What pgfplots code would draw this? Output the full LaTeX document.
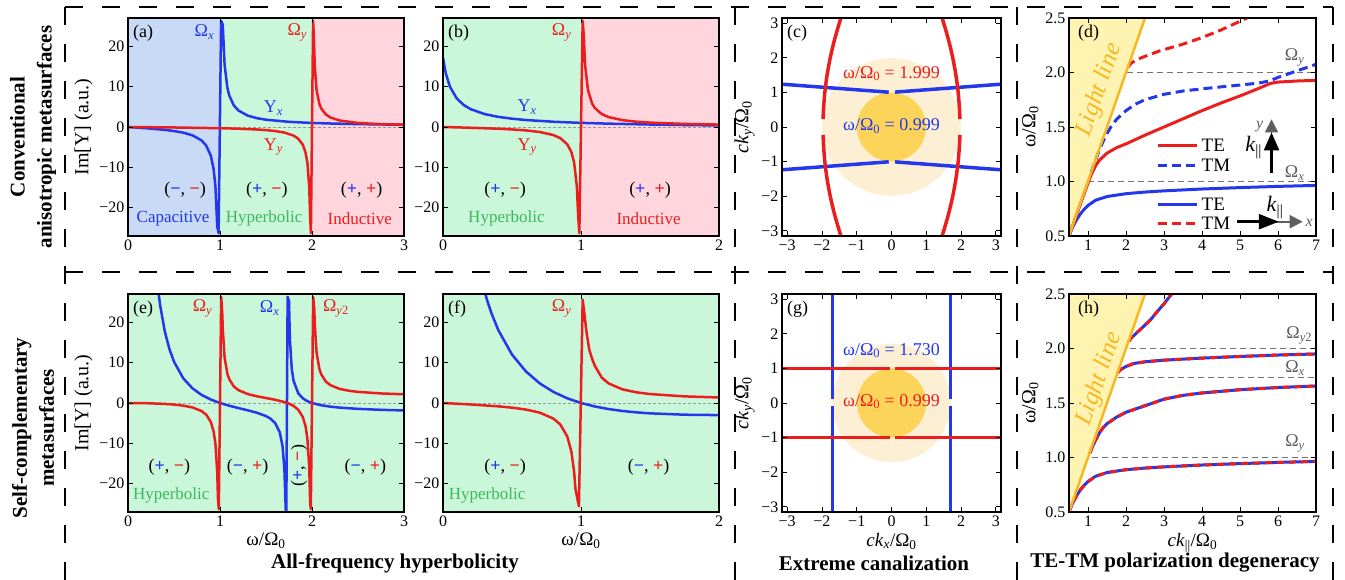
\documentclass[border=0pt]{standalone}
\usepackage{fontspec}
\setmainfont{Liberation Serif}
\usepackage{xcolor}
\usepackage{pgfplots}
\usepackage{pgfplotstable}
\pgfplotsset{compat=1.18}
\usetikzlibrary{arrows.meta}

\definecolor{cblue}{RGB}{35,55,235}
\definecolor{cred}{RGB}{235,30,30}
\definecolor{bgblue}{RGB}{200,218,245}
\definecolor{bggreen}{RGB}{202,247,218}
\definecolor{bgpink}{RGB}{255,214,222}
\definecolor{tgreen}{RGB}{60,185,90}
\definecolor{lightfill}{RGB}{255,243,178}
\definecolor{lightline}{RGB}{246,184,30}
\definecolor{circout}{RGB}{253,239,212}
\definecolor{circin}{RGB}{253,212,90}
\definecolor{agray}{RGB}{95,95,95}

\newcommand{\fs}[1]{\fontsize{#1}{#1}\selectfont}
\newcommand{\Om}[1]{Ω\textsubscript{\textit{#1}}}
\newcommand{\wO}{ω/Ω\textsubscript{0}}
\newcommand{\sg}[2]{(\textcolor{cblue}{\textbf{#1}}, \textcolor{cred}{\textbf{#2}})}

\tikzset{
  plabel/.style={anchor=north west, inner sep=0pt, font=\fs{18}},
  curve/.style={line width=2.5pt, line join=round},
  cont/.style={line width=3.5pt},
  disp/.style={line width=3pt, line join=round},
  dsh/.style={dash pattern=on 9pt off 5pt},
  zeroline/.style={gray!80, line width=0.8pt, dash pattern=on 3pt off 2pt},
  refline/.style={gray!90!black, line width=1pt, dash pattern=on 6pt off 4pt},
}
\pgfplotsset{
  pan/.style={scale only axis, anchor=south west, axis on top, tick align=inside,
    major tick length=5pt, axis line style={line width=1.1pt},
    tick style={line width=0.8pt, black},
    ticklabel style={font=\fs{16}},
    xlabel style={font=\fs{19}}, ylabel style={font=\fs{20}}},
  ypan/.style={pan, height=218pt, ymin=-27, ymax=27,
    ytick={-20,-10,0,10,20}, yticklabels={−20,−10,0,10,20}},
  kpan/.style={pan, width=219pt, height=218pt, xmin=-3.15, xmax=3.15, ymin=-3.15, ymax=3.15,
    xtick={-3,...,3}, xticklabels={−3,−2,−1,0,1,2,3},
    ytick={-3,...,3}, yticklabels={−3,−2,−1,0,1,2,3},
    ylabel={\textit{ck}\textsubscript{\textit{y}}/Ω\textsubscript{0}}},
  dpan/.style={pan, width=247pt, height=218pt, xmin=0.5, xmax=7, ymin=0.5, ymax=2.5,
    xtick={1,...,7}, xticklabels={1,2,3,4,5,6,7},
    ytick={0.5,1,1.5,2,2.5}, yticklabels={0.5,1.0,1.5,2.0,2.5}, ylabel={\wO}},
}

% dispersion branches, (d) and (h)
\pgfplotstableread{
k w
0.5 0.5
0.55 0.545
0.6 0.585
0.7 0.65
0.8 0.703
0.9 0.745
1.0 0.78
1.2 0.828
1.5 0.862
2.0 0.888
2.5 0.903
3.0 0.914
4.0 0.931
5.0 0.944
6.0 0.955
7.0 0.964
}\brA
\pgfplotstableread{
k w
1.05 1.04
1.1 1.085
1.2 1.16
1.3 1.225
1.4 1.275
1.5 1.31
1.75 1.37
2.0 1.415
2.5 1.475
3.0 1.535
3.5 1.57
4.0 1.592
5.0 1.622
6.0 1.642
7.0 1.656
}\brB
\pgfplotstableread{
k w
1.78 1.775
1.85 1.805
2.0 1.835
2.2 1.862
2.5 1.878
3.0 1.893
4.0 1.912
5.0 1.927
6.0 1.94
7.0 1.95
}\brC
\pgfplotstableread{
k w
2.07 2.065
2.12 2.09
2.3 2.15
2.5 2.215
2.65 2.265
2.8 2.33
3.0 2.41
3.2 2.5
3.25 2.53
}\brD

\begin{document}
\begin{tikzpicture}
\useasboundingbox (0pt,0pt) rectangle (1345pt,580pt);

% ---------------- (a)
\begin{axis}[ypan, at={(128pt,344pt)}, width=276pt, xmin=0, xmax=3,
  xtick={0,1,2,3}, xticklabels={0,1,2,3}, ylabel={Im[Y] (a.u.)}]
\addplot[fill=bgblue, draw=none] coordinates {(0,-27)(1,-27)(1,27)(0,27)};
\addplot[fill=bggreen, draw=none] coordinates {(1,-27)(2,-27)(2,27)(1,27)};
\addplot[fill=bgpink, draw=none] coordinates {(2,-27)(3,-27)(3,27)(2,27)};
\addplot[zeroline] coordinates {(0,0)(3,0)};
\addplot[cblue, curve] coordinates {(0,0)(0.2,-0.3125)(0.4,-0.714)(0.5,-1.0)(0.6,-1.406)(0.7,-2.059)(0.8,-3.333)(0.85,-4.595)(0.9,-7.105)(0.93,-10.33)(0.95,-14.62)(0.97,-24.6)(0.985,-26.3)(1.012,26.3)(1.03,25.4)(1.05,15.37)(1.08,9.74)(1.1,7.857)(1.15,5.349)(1.2,4.091)(1.3,2.826)(1.4,2.188)(1.5,1.8)(1.75,1.273)(2,1)(2.25,0.831)(2.5,0.714)(2.75,0.629)(3,0.5625)};
\addplot[cred, curve] coordinates {(0,0)(0.5,-0.12)(1,-0.3)(1.2,-0.422)(1.4,-0.618)(1.5,-0.771)(1.6,-1.0)(1.7,-1.378)(1.8,-2.132)(1.85,-2.883)(1.9,-4.385)(1.93,-6.314)(1.95,-8.886)(1.97,-14.89)(1.98,-22.39)(1.988,-26.3)(2.012,26.3)(2.02,22.61)(2.03,15.11)(2.05,9.111)(2.08,5.735)(2.1,4.61)(2.15,3.108)(2.2,2.357)(2.3,1.605)(2.5,1.0)(2.75,0.695)(3,0.54)};
\node[plabel, xshift=5pt, yshift=-7pt] at (rel axis cs:0,1) {(a)};
\node[text=cblue, font=\fs{18}] at (axis cs:0.83,23.5) {\Om{x}};
\node[text=cred, font=\fs{18}] at (axis cs:1.84,23.5) {\Om{y}};
\node[text=cblue, font=\fs{18}] at (axis cs:1.58,4.7) {Y\textsubscript{\textit{x}}};
\node[text=cred, font=\fs{18}] at (axis cs:1.58,-4.9) {Y\textsubscript{\textit{y}}};
\node[font=\fs{18}] at (axis cs:0.62,-15.6) {\sg{−}{−}};
\node[font=\fs{18}] at (axis cs:1.51,-15.6) {\sg{+}{−}};
\node[font=\fs{18}] at (axis cs:2.54,-15.6) {\sg{+}{+}};
\node[text=cblue, font=\fs{17}] at (axis cs:0.49,-22.7) {Capacitive};
\node[text=tgreen, font=\fs{17}] at (axis cs:1.48,-22.7) {Hyperbolic};
\node[text=cred, font=\fs{17}] at (axis cs:2.52,-22.7) {Inductive};
\end{axis}

% ---------------- (b)
\begin{axis}[ypan, at={(443pt,344pt)}, width=276pt, xmin=0, xmax=2,
  xtick={0,1,2}, xticklabels={0,1,2}]
\addplot[fill=bggreen, draw=none] coordinates {(0,-27)(1,-27)(1,27)(0,27)};
\addplot[fill=bgpink, draw=none] coordinates {(1,-27)(2,-27)(2,27)(1,27)};
\addplot[zeroline] coordinates {(0,0)(2,0)};
\addplot[cblue, curve] coordinates {(0,17.14)(0.02,13.33)(0.05,9.995)(0.1,7.049)(0.15,5.44)(0.2,4.424)(0.3,3.213)(0.4,2.513)(0.5,2.055)(0.6,1.731)(0.8,1.299)(1.0,1.021)(1.2,0.825)(1.5,0.614)(1.75,0.484)(2.0,0.38)};
\addplot[cred, curve] coordinates {(0,0)(0.2,-0.1875)(0.4,-0.4286)(0.5,-0.6)(0.6,-0.844)(0.7,-1.235)(0.8,-2.0)(0.85,-2.757)(0.9,-4.263)(0.93,-6.195)(0.95,-8.769)(0.97,-14.77)(0.98,-22.27)(0.988,-26.3)(1.012,26.3)(1.02,22.72)(1.03,15.22)(1.05,9.22)(1.08,5.841)(1.1,4.714)(1.15,3.209)(1.2,2.455)(1.3,1.696)(1.4,1.3125)(1.5,1.08)(1.75,0.764)(2,0.6)};
\node[plabel, xshift=5pt, yshift=-7pt] at (rel axis cs:0,1) {(b)};
\node[text=cred, font=\fs{18}] at (axis cs:0.86,23.5) {\Om{y}};
\node[text=cblue, font=\fs{18}] at (axis cs:0.61,4.9) {Y\textsubscript{\textit{x}}};
\node[text=cred, font=\fs{18}] at (axis cs:0.61,-4.9) {Y\textsubscript{\textit{y}}};
\node[font=\fs{18}] at (axis cs:0.45,-15.6) {\sg{+}{−}};
\node[font=\fs{18}] at (axis cs:1.5,-15.6) {\sg{+}{+}};
\node[text=tgreen, font=\fs{17}] at (axis cs:0.46,-22.7) {Hyperbolic};
\node[text=cred, font=\fs{17}] at (axis cs:1.49,-22.7) {Inductive};
\end{axis}

% ---------------- (c)
\begin{axis}[kpan, at={(782pt,344pt)}]
\addplot[fill=circout, draw=none] coordinates {(2,0)(1.932,0.518)(1.732,1)(1.414,1.414)(1,1.732)(0.518,1.932)(0,2)(-0.518,1.932)(-1,1.732)(-1.414,1.414)(-1.732,1)(-1.932,0.518)(-2,0)(-1.932,-0.518)(-1.732,-1)(-1.414,-1.414)(-1,-1.732)(-0.518,-1.932)(0,-2)(0.518,-1.932)(1,-1.732)(1.414,-1.414)(1.732,-1)(1.932,-0.518)(2,0)};
\addplot[fill=circin, draw=none] coordinates {(1,0)(0.966,0.259)(0.866,0.5)(0.707,0.707)(0.5,0.866)(0.259,0.966)(0,1)(-0.259,0.966)(-0.5,0.866)(-0.707,0.707)(-0.866,0.5)(-0.966,0.259)(-1,0)(-0.966,-0.259)(-0.866,-0.5)(-0.707,-0.707)(-0.5,-0.866)(-0.259,-0.966)(0,-1)(0.259,-0.966)(0.5,-0.866)(0.707,-0.707)(0.866,-0.5)(0.966,-0.259)(1,0)};
\addplot[cblue, cont] coordinates {(-3.3,1.248)(-0.08,1.006)};
\addplot[cblue, cont] coordinates {(0.1,1.008)(3.3,1.248)};
\addplot[cblue, cont] coordinates {(-3.3,-1.248)(-0.08,-1.006)};
\addplot[cblue, cont] coordinates {(0.1,-1.008)(3.3,-1.248)};
\addplot[cred, cont, smooth] coordinates {(1.967,0.23)(1.957,0.5)(1.918,1.0)(1.853,1.5)(1.762,2.0)(1.645,2.5)(1.502,3.0)(1.404,3.3)};
\addplot[cred, cont, smooth] coordinates {(1.967,-0.23)(1.957,-0.5)(1.918,-1.0)(1.853,-1.5)(1.762,-2.0)(1.645,-2.5)(1.502,-3.0)(1.404,-3.3)};
\addplot[cred, cont, smooth] coordinates {(-1.967,0.23)(-1.957,0.5)(-1.918,1.0)(-1.853,1.5)(-1.762,2.0)(-1.645,2.5)(-1.502,3.0)(-1.404,3.3)};
\addplot[cred, cont, smooth] coordinates {(-1.967,-0.23)(-1.957,-0.5)(-1.918,-1.0)(-1.853,-1.5)(-1.762,-2.0)(-1.645,-2.5)(-1.502,-3.0)(-1.404,-3.3)};
\node[plabel, xshift=5pt, yshift=-7pt] at (rel axis cs:0,1) {(c)};
\node[text=cred, font=\fs{18}] at (axis cs:0,1.54) {\wO{} = 1.999};
\node[text=cblue, font=\fs{18}] at (axis cs:0,0.02) {\wO{} = 0.999};
\end{axis}

% ---------------- (d)
\begin{axis}[dpan, at={(1069pt,344pt)}]
\addplot[fill=lightfill, draw=none] coordinates {(0.5,0.5)(2.5,2.5)(0.5,2.5)};
\addplot[refline] coordinates {(2.03,2)(7,2)};
\addplot[refline] coordinates {(1.0,1)(7,1)};
\addplot[cblue, disp] table[x=k,y=w] {\brA};
\addplot[cred, disp] coordinates {(0.5,0.5)(0.7,0.695)(0.9,0.89)(1.0,0.985)(1.05,1.033)(1.1,1.075)(1.2,1.145)(1.3,1.195)(1.5,1.26)(1.75,1.31)(2.0,1.345)(2.5,1.425)(3.0,1.5)(3.5,1.575)(4.0,1.65)(4.5,1.72)(5.0,1.785)(5.5,1.855)(5.8,1.9)(6.0,1.912)(6.5,1.922)(7.0,1.928)};
\addplot[cblue, disp, dsh] coordinates {(1.08,1.08)(1.2,1.195)(1.3,1.29)(1.4,1.37)(1.5,1.44)(1.6,1.5)(1.75,1.57)(2.0,1.65)(2.25,1.71)(2.5,1.75)(3.0,1.8)(3.5,1.83)(4.0,1.85)(4.5,1.868)(5.0,1.885)(5.5,1.903)(5.8,1.925)(6.0,1.955)(6.5,2.015)(7.0,2.075)};
\addplot[cred, disp, dsh] coordinates {(2.05,2.05)(2.15,2.09)(2.4,2.135)(2.9,2.2)(3.5,2.26)(4.0,2.32)(4.5,2.39)(5.0,2.47)(5.3,2.52)};
\addplot[lightline, line width=2.5pt] coordinates {(0.5,0.5)(2.5,2.5)};
% legend
\addplot[cred, disp] coordinates {(2.84,1.332)(3.87,1.332)};
\addplot[cblue, disp, dsh] coordinates {(2.84,1.148)(3.87,1.148)};
\addplot[cblue, disp] coordinates {(2.84,0.79)(3.87,0.79)};
\addplot[cred, disp, dsh] coordinates {(2.84,0.613)(3.87,0.613)};
\node[anchor=west, font=\fs{19}] at (axis cs:3.9,1.332) {TE};
\node[anchor=west, font=\fs{19}] at (axis cs:3.9,1.148) {TM};
\node[anchor=west, font=\fs{19}] at (axis cs:3.9,0.79) {TE};
\node[anchor=west, font=\fs{19}] at (axis cs:3.9,0.613) {TM};
\node[plabel, xshift=9pt, yshift=-7pt] at (rel axis cs:0,1) {(d)};
\node[rotate=70.8, text=lightline, font=\itshape\fs{25}, inner sep=0pt] at (axis cs:1.3,1.84) {Light line};
\node[text=agray, font=\fs{18}] at (axis cs:6.44,2.14) {\Om{y}};
\node[text=agray, font=\fs{18}] at (axis cs:6.44,1.08) {\Om{x}};
% polarization arrows
\draw[agray, line width=1.5pt, -{Triangle[length=13pt,width=13pt]}] (axis cs:5.83,1.43) -- (axis cs:5.83,1.57);
\draw[black, line width=2.5pt, -{Triangle[length=18pt,width=15pt]}] (axis cs:5.83,1.08) -- (axis cs:5.83,1.45);
\node[text=agray, font=\itshape\fs{16}] at (axis cs:5.52,1.50) {y};
\node[font=\fs{22}] at (axis cs:5.36,1.31) {\textit{k}\textsubscript{||}};
\draw[agray, line width=2pt, -{Triangle[length=13pt,width=13pt]}] (axis cs:5.95,0.631) -- (axis cs:6.65,0.631);
\draw[black, line width=2.5pt, -{Triangle[length=20pt,width=15pt]}] (axis cs:4.93,0.631) -- (axis cs:6.02,0.631);
\node[text=agray, font=\itshape\fs{16}] at (axis cs:6.82,0.625) {x};
\node[font=\fs{22}] at (axis cs:5.92,0.76) {\textit{k}\textsubscript{||}};
\end{axis}

% ---------------- (e)
\begin{axis}[ypan, at={(128pt,68pt)}, width=276pt, xmin=0, xmax=3,
  xtick={0,1,2,3}, xticklabels={0,1,2,3}, ylabel={Im[Y] (a.u.)}, xlabel={\wO}]
\addplot[fill=bggreen, draw=none] coordinates {(0,-27)(3,-27)(3,27)(0,27)};
\addplot[zeroline] coordinates {(0,0)(3,0)};
\addplot[cblue, curve] coordinates {(0.3,33.96)(0.33,27.53)(0.35,24.13)(0.4,17.74)(0.45,13.37)(0.5,10.23)(0.6,6.127)(0.7,3.639)(0.8,2.002)(0.9,0.854)(1.0,0)(1.1,-0.676)(1.2,-1.254)(1.3,-1.80)(1.4,-2.402)(1.5,-3.241)(1.55,-3.902)(1.6,-4.986)(1.65,-7.282)(1.68,-10.70)(1.7,-16.50)(1.71,-23.32)(1.72,-30)(1.735,26.3)(1.75,25.26)(1.76,15.65)(1.78,8.449)(1.8,5.473)(1.85,2.419)(1.9,1.156)(1.95,0.454)(2.0,0)(2.1,-0.562)(2.2,-0.906)(2.3,-1.142)(2.5,-1.454)(2.75,-1.694)(3,-1.852)};
\addplot[cred, curve] coordinates {(0,0)(0.2,-0.05)(0.4,-0.225)(0.5,-0.391)(0.6,-0.653)(0.7,-1.099)(0.8,-1.998)(0.85,-2.895)(0.9,-4.683)(0.93,-6.976)(0.95,-10.03)(0.97,-17.15)(0.978,-23.61)(0.987,-26.3)(1.013,26.3)(1.025,21.95)(1.03,18.39)(1.05,11.27)(1.08,7.258)(1.1,5.915)(1.15,4.111)(1.2,3.191)(1.3,2.222)(1.4,1.665)(1.5,1.234)(1.6,0.802)(1.7,0.242)(1.75,-0.158)(1.8,-0.731)(1.85,-1.654)(1.9,-3.461)(1.93,-5.763)(1.95,-8.821)(1.97,-15.94)(1.98,-24.84)(1.987,-26.3)(2.013,26.3)(2.025,23.22)(2.03,19.59)(2.05,12.47)(2.08,8.457)(2.1,7.116)(2.15,5.321)(2.2,4.418)(2.3,3.502)(2.4,3.036)(2.5,2.751)(2.75,2.361)(3,2.16)};
\node[plabel, xshift=5pt, yshift=-7pt] at (rel axis cs:0,1) {(e)};
\node[text=cred, font=\fs{18}] at (axis cs:0.81,23.5) {\Om{y}};
\node[text=cblue, font=\fs{18}] at (axis cs:1.54,23.5) {\Om{x}};
\node[text=cred, font=\fs{18}] at (axis cs:2.26,23.5) {Ω\textsubscript{\textit{y}2}};
\node[font=\fs{18}] at (axis cs:0.45,-15.8) {\sg{+}{−}};
\node[font=\fs{18}] at (axis cs:1.3,-15.8) {\sg{−}{+}};
\node[font=\fs{18}, rotate=90] at (axis cs:1.86,-15.5) {\sg{+}{−}};
\node[font=\fs{18}] at (axis cs:2.58,-15.8) {\sg{−}{+}};
\node[text=tgreen, font=\fs{17}] at (axis cs:0.47,-23) {Hyperbolic};
\end{axis}

% ---------------- (f)
\begin{axis}[ypan, at={(443pt,68pt)}, width=276pt, xmin=0, xmax=2,
  xtick={0,1,2}, xticklabels={0,1,2}, xlabel={\wO}]
\addplot[fill=bggreen, draw=none] coordinates {(0,-27)(2,-27)(2,27)(0,27)};
\addplot[zeroline] coordinates {(0,0)(2,0)};
\addplot[cblue, curve] coordinates {(0.28,30.52)(0.3,27.83)(0.32,25.44)(0.35,22.34)(0.4,18.10)(0.5,12.0)(0.6,7.843)(0.7,4.890)(0.8,2.744)(0.9,1.166)(1.0,0)(1.1,-0.864)(1.2,-1.503)(1.3,-1.973)(1.4,-2.317)(1.5,-2.564)(1.75,-2.901)(2.0,-3.0)};
\addplot[cred, curve] coordinates {(0,0)(0.2,-0.363)(0.4,-0.825)(0.5,-1.154)(0.6,-1.623)(0.7,-2.378)(0.8,-3.857)(0.85,-5.324)(0.9,-8.249)(0.93,-12.0)(0.95,-17.0)(0.96,-21.38)(0.985,-25.6)(1.012,25.6)(1.025,22.0)(1.04,17.5)(1.06,13.2)(1.08,11.0)(1.1,9.227)(1.15,6.306)(1.2,4.845)(1.3,3.382)(1.4,2.65)(1.5,2.213)(1.75,1.638)(2,1.367)};
\node[plabel, xshift=5pt, yshift=-7pt] at (rel axis cs:0,1) {(f)};
\node[text=cred, font=\fs{18}] at (axis cs:0.86,23.5) {\Om{y}};
\node[font=\fs{18}] at (axis cs:0.45,-15.8) {\sg{+}{−}};
\node[font=\fs{18}] at (axis cs:1.49,-15.8) {\sg{−}{+}};
\node[text=tgreen, font=\fs{17}] at (axis cs:0.32,-23) {Hyperbolic};
\end{axis}

% ---------------- (g)
\begin{axis}[kpan, at={(782pt,68pt)},
  xlabel={\textit{ck}\textsubscript{\textit{x}}/Ω\textsubscript{0}}]
\addplot[fill=circout, draw=none] coordinates {(1.72,0)(1.661,0.445)(1.49,0.86)(1.216,1.216)(0.86,1.49)(0.445,1.661)(0,1.72)(-0.445,1.661)(-0.86,1.49)(-1.216,1.216)(-1.49,0.86)(-1.661,0.445)(-1.72,0)(-1.661,-0.445)(-1.49,-0.86)(-1.216,-1.216)(-0.86,-1.49)(-0.445,-1.661)(0,-1.72)(0.445,-1.661)(0.86,-1.49)(1.216,-1.216)(1.49,-0.86)(1.661,-0.445)(1.72,0)};
\addplot[fill=circin, draw=none] coordinates {(1,0)(0.966,0.259)(0.866,0.5)(0.707,0.707)(0.5,0.866)(0.259,0.966)(0,1)(-0.259,0.966)(-0.5,0.866)(-0.707,0.707)(-0.866,0.5)(-0.966,0.259)(-1,0)(-0.966,-0.259)(-0.866,-0.5)(-0.707,-0.707)(-0.5,-0.866)(-0.259,-0.966)(0,-1)(0.259,-0.966)(0.5,-0.866)(0.707,-0.707)(0.866,-0.5)(0.966,-0.259)(1,0)};
\addplot[cblue, cont] coordinates {(-1.7,-3.3)(-1.7,-0.09)};
\addplot[cblue, cont] coordinates {(-1.7,0.11)(-1.7,3.3)};
\addplot[cblue, cont] coordinates {(1.7,-3.3)(1.7,-0.09)};
\addplot[cblue, cont] coordinates {(1.7,0.11)(1.7,3.3)};
\addplot[cred, cont] coordinates {(-3.3,1)(-0.05,1)};
\addplot[cred, cont] coordinates {(0.09,1)(3.3,1)};
\addplot[cred, cont] coordinates {(-3.3,-1)(-0.05,-1)};
\addplot[cred, cont] coordinates {(0.09,-1)(3.3,-1)};
\node[plabel, xshift=5pt, yshift=-7pt] at (rel axis cs:0,1) {(g)};
\node[text=cblue, font=\fs{18}] at (axis cs:0,1.52) {\wO{} = 1.730};
\node[text=cred, font=\fs{18}] at (axis cs:0,0.04) {\wO{} = 0.999};
\end{axis}

% ---------------- (h)
\begin{axis}[dpan, at={(1069pt,68pt)},
  xlabel={\textit{ck}\textsubscript{||}/Ω\textsubscript{0}}]
\addplot[fill=lightfill, draw=none] coordinates {(0.5,0.5)(2.5,2.5)(0.5,2.5)};
\addplot[refline] coordinates {(2.1,2)(7,2)};
\addplot[refline] coordinates {(1.8,1.732)(7,1.732)};
\addplot[refline] coordinates {(1.1,1)(7,1)};
\addplot[cblue, disp] table[x=k,y=w] {\brA};
\addplot[cred, disp, dash pattern=on 7pt off 5pt] table[x=k,y=w] {\brA};
\addplot[cblue, disp] table[x=k,y=w] {\brB};
\addplot[cred, disp, dash pattern=on 7pt off 5pt] table[x=k,y=w] {\brB};
\addplot[cblue, disp] table[x=k,y=w] {\brC};
\addplot[cred, disp, dash pattern=on 7pt off 5pt] table[x=k,y=w] {\brC};
\addplot[cblue, disp] table[x=k,y=w] {\brD};
\addplot[cred, disp, dash pattern=on 7pt off 5pt] table[x=k,y=w] {\brD};
\addplot[lightline, line width=2.5pt] coordinates {(0.5,0.5)(2.5,2.5)};
\node[plabel, xshift=9pt, yshift=-7pt] at (rel axis cs:0,1) {(h)};
\node[rotate=70.8, text=lightline, font=\itshape\fs{25}, inner sep=0pt] at (axis cs:1.3,1.72) {Light line};
\node[text=agray, font=\fs{18}] at (axis cs:6.56,2.12) {Ω\textsubscript{\textit{y}2}};
\node[text=agray, font=\fs{18}] at (axis cs:6.45,1.82) {\Om{x}};
\node[text=agray, font=\fs{18}] at (axis cs:6.45,1.13) {\Om{y}};
\end{axis}

% ---------------- frame and group labels
\begin{scope}[line width=2pt, dash pattern=on 18pt off 19pt]
\draw (65pt,573pt) -- (1333pt,573pt);
\draw (65pt,308pt) -- (1333pt,308pt);
\draw (65pt,573pt) -- (65pt,0pt);
\draw (735pt,573pt) -- (735pt,0pt);
\draw (1017pt,573pt) -- (1017pt,0pt);
\draw (1333pt,573pt) -- (1333pt,0pt);
\end{scope}
\node[rotate=90, align=center, font=\fontsize{21}{27}\selectfont\bfseries] at (33pt,443pt) {Conventional\\anisotropic metasurfaces};
\node[rotate=90, align=center, font=\fontsize{21}{27}\selectfont\bfseries] at (33pt,152pt) {Self-complementary\\metasurfaces};
\node[font=\fontsize{21}{21}\selectfont\bfseries] at (395pt,17pt) {All-frequency hyperbolicity};
\node[font=\fontsize{21}{21}\selectfont\bfseries] at (874pt,17pt) {Extreme canalization};
\node[font=\fontsize{21}{21}\selectfont\bfseries] at (1175pt,17pt) {TE-TM polarization degeneracy};
\end{tikzpicture}
\end{document}
